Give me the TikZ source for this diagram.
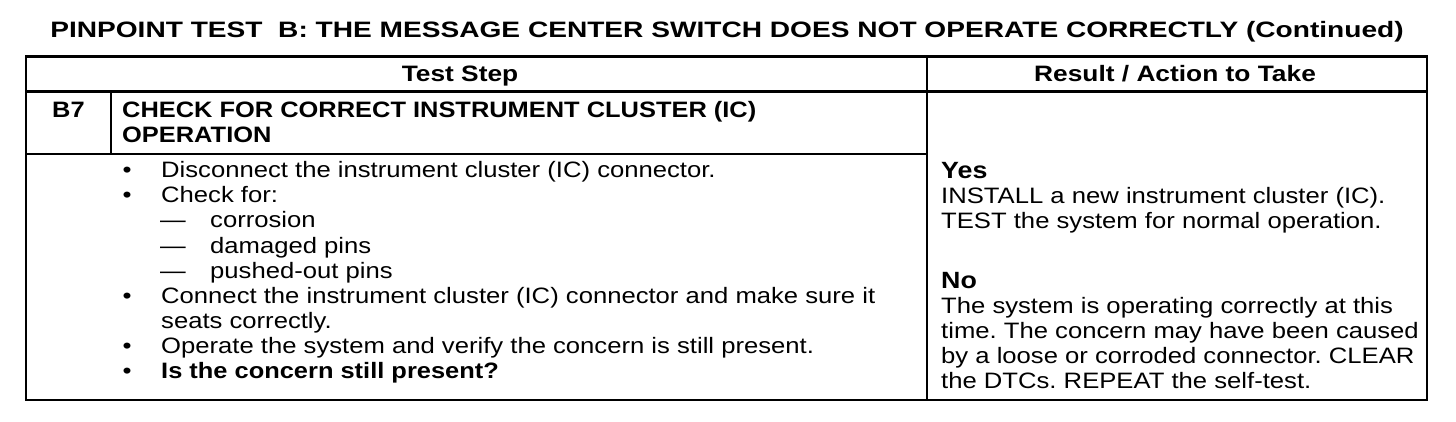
\documentclass[tikz,border=0pt]{standalone}
\usepackage{fontspec}
\setmainfont{Liberation Sans}
\newfontfamily\regf{Liberation Sans}[FakeStretch=1.15]
\newfontfamily\boldf{Liberation Sans Bold}[FakeStretch=1.14]
\newfontfamily\hdrf{Liberation Sans Bold}[FakeStretch=1.18]
\newfontfamily\titf{Liberation Sans Bold}[FakeStretch=1.26]
\newfontfamily\resf{Liberation Sans}[FakeStretch=1.15]
\newcommand{\body}{\regf\fontsize{22.3}{25}\selectfont}
\newcommand{\bodyb}{\boldf\fontsize{22.3}{25}\selectfont}
\newcommand{\hdrfont}{\hdrf\fontsize{22.3}{25}\selectfont}
\newcommand{\titlef}{\titf\fontsize{22.3}{25}\selectfont}
\newcommand{\resfont}{\resf\fontsize{22.3}{25}\selectfont}
\newcommand{\yesno}{\boldf\fontsize{23.5}{25}\selectfont}
\frenchspacing
\begin{document}
\begin{tikzpicture}[x=1pt,y=-1pt,
  txt/.style={anchor=base west,inner sep=0pt,font=\body},
  bld/.style={anchor=base west,inner sep=0pt,font=\bodyb},
  hdr/.style={anchor=base,inner sep=0pt,font=\hdrfont},
  res/.style={anchor=base west,inner sep=0pt,font=\resfont},
  yn/.style={anchor=base west,inner sep=0pt,font=\yesno},
  bul/.style={anchor=base,inner sep=0pt,font=\body},
  rule/.style={line width=2.6pt}]
\useasboundingbox (0,0) rectangle (1456,422);
% table frame
\draw[rule] (26,56.5) rectangle (1427,400);
\draw[rule] (26,91.5) -- (1427,91.5);
\draw[rule] (26,154) -- (927,154);
\draw[rule] (111,91.5) -- (111,154);
\draw[rule] (927,56.5) -- (927,400);
% title
\node[anchor=base,inner sep=0pt,font=\titlef] (title) at (727,37.7)
  {PINPOINT TEST\ \ B: THE MESSAGE CENTER SWITCH DOES NOT OPERATE CORRECTLY (Continued)};
% headers
\node[hdr] (hstep) at (460,82) {Test Step};
\node[hdr] (hres) at (1175,82) {Result / Action to Take};
% step row
\node[bld] (b7) at (52,117.5) {B7};
\node[bld] (chk1) at (122,117.5) {CHECK FOR CORRECT INSTRUMENT CLUSTER (IC)};
\node[bld] (chk2) at (122,142.5) {OPERATION};
% bullets
\node[bul] (u1) at (127,178) {•};
\node[txt] (l1) at (161,178) {Disconnect the instrument cluster (IC) connector.};
\node[bul] (u2) at (127,203) {•};
\node[txt] (l2) at (161,203) {Check for:};
\node[txt] (d1) at (160,228) {—};
\node[txt] (s1) at (210,228) {corrosion};
\node[txt] (d2) at (160,253) {—};
\node[txt] (s2) at (210,253) {damaged pins};
\node[txt] (d3) at (160,278) {—};
\node[txt] (s3) at (210,278) {pushed-out pins};
\node[bul] (u3) at (127,303) {•};
\node[txt] (l3) at (161,303) {Connect the instrument cluster (IC) connector and make sure it};
\node[txt] (l4) at (161,328) {seats correctly.};
\node[bul] (u4) at (127,353) {•};
\node[txt] (l5) at (161,353) {Operate the system and verify the concern is still present.};
\node[bul] (u5) at (127,378) {•};
\node[bld] (l6) at (161,378) {Is the concern still present?};
% results
\node[yn] (yes) at (941,179) {Yes};
\node[res] (y1) at (941,204) {INSTALL a new instrument cluster (IC).};
\node[res] (y2) at (941,229) {TEST the system for normal operation.};
\node[yn] (no) at (941,288) {No};
\node[res] (n1) at (941,313) {The system is operating correctly at this};
\node[res] (n2) at (941,338) {time. The concern may have been caused};
\node[res] (n3) at (941,363) {by a loose or corroded connector. CLEAR};
\node[res] (n4) at (941,388) {the DTCs. REPEAT the self-test.};
\end{tikzpicture}
\end{document}
